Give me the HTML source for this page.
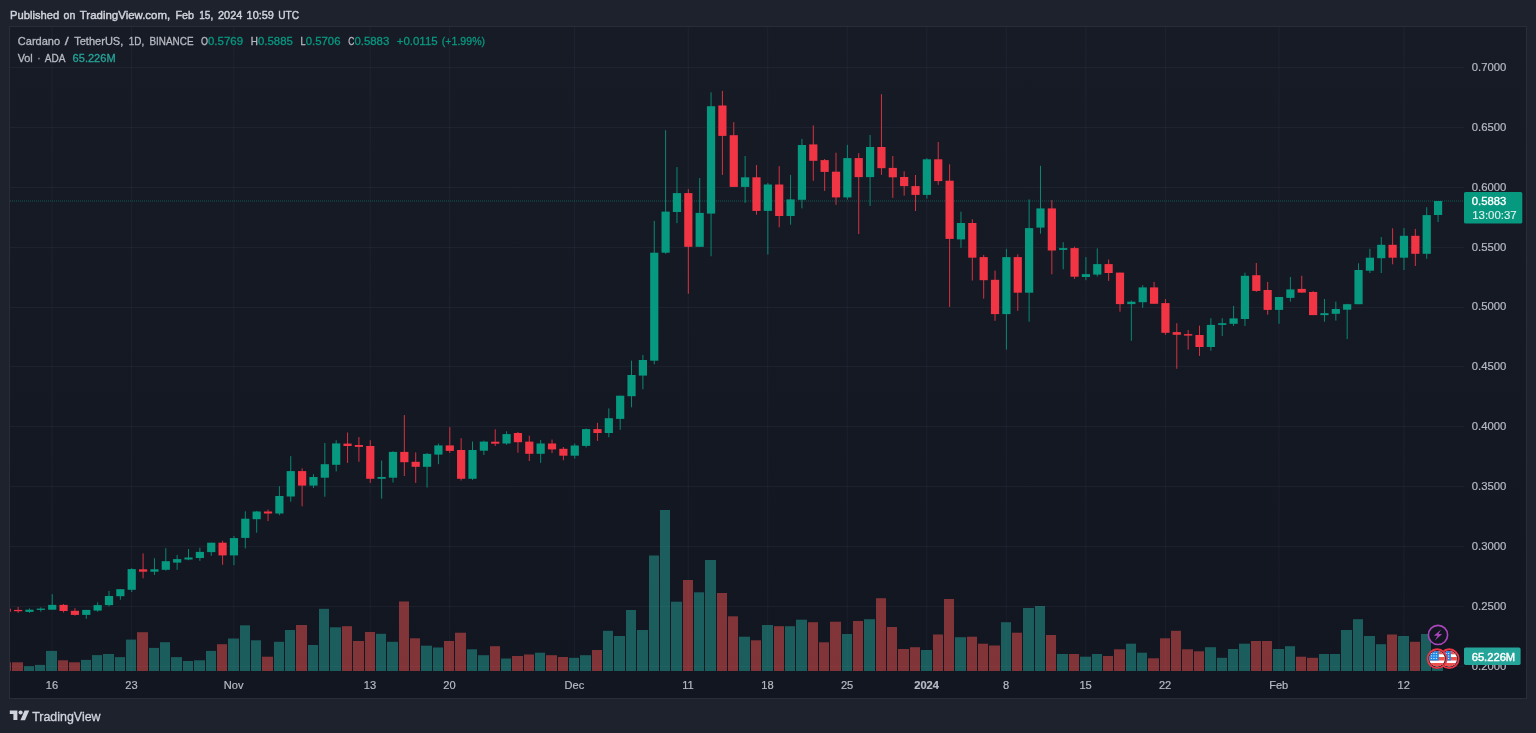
<!DOCTYPE html><html><head><meta charset="utf-8"><title>ADAUSDT</title><style>html,body{margin:0;padding:0;background:#1e222d;overflow:hidden}body{width:1536px;height:733px;position:relative;font-family:"Liberation Sans",sans-serif}</style></head><body><svg width="1536" height="733" viewBox="0 0 1536 733" style="display:block;position:absolute;left:0;top:0;will-change:transform" font-family="Liberation Sans, sans-serif">
<rect x="0" y="0" width="1536" height="733" fill="#1e222d"/>
<g opacity="0.999">
<defs><linearGradient id="bgg" x1="0" y1="0" x2="0" y2="1"><stop offset="0" stop-color="#181c27"/><stop offset="1" stop-color="#131722"/></linearGradient></defs>
<rect x="9.5" y="26.5" width="1517" height="672" fill="url(#bgg)" stroke="#2a2e39" stroke-width="1"/>
<defs><clipPath id="pc"><rect x="10" y="27" width="1454" height="644"/></clipPath></defs>
<rect x="10" y="67" width="1454" height="1" fill="rgba(140,145,160,0.08)"/>
<rect x="10" y="127" width="1454" height="1" fill="rgba(140,145,160,0.08)"/>
<rect x="10" y="187" width="1454" height="1" fill="rgba(140,145,160,0.08)"/>
<rect x="10" y="247" width="1454" height="1" fill="rgba(140,145,160,0.08)"/>
<rect x="10" y="307" width="1454" height="1" fill="rgba(140,145,160,0.08)"/>
<rect x="10" y="366" width="1454" height="1" fill="rgba(140,145,160,0.08)"/>
<rect x="10" y="426" width="1454" height="1" fill="rgba(140,145,160,0.08)"/>
<rect x="10" y="486" width="1454" height="1" fill="rgba(140,145,160,0.08)"/>
<rect x="10" y="546" width="1454" height="1" fill="rgba(140,145,160,0.08)"/>
<rect x="10" y="606" width="1454" height="1" fill="rgba(140,145,160,0.08)"/>
<rect x="10" y="666" width="1454" height="1" fill="rgba(140,145,160,0.08)"/>
<rect x="51.60" y="27" width="1" height="644" fill="rgba(140,145,160,0.08)" opacity="1.15"/>
<rect x="131.12" y="27" width="1" height="644" fill="rgba(140,145,160,0.08)" opacity="1.15"/>
<rect x="233.35" y="27" width="1" height="644" fill="rgba(140,145,160,0.08)" opacity="1.15"/>
<rect x="369.67" y="27" width="1" height="644" fill="rgba(140,145,160,0.08)" opacity="1.15"/>
<rect x="449.18" y="27" width="1" height="644" fill="rgba(140,145,160,0.08)" opacity="1.15"/>
<rect x="574.14" y="27" width="1" height="644" fill="rgba(140,145,160,0.08)" opacity="1.15"/>
<rect x="687.73" y="27" width="1" height="644" fill="rgba(140,145,160,0.08)" opacity="1.15"/>
<rect x="767.25" y="27" width="1" height="644" fill="rgba(140,145,160,0.08)" opacity="1.15"/>
<rect x="846.77" y="27" width="1" height="644" fill="rgba(140,145,160,0.08)" opacity="1.15"/>
<rect x="926.28" y="27" width="1" height="644" fill="rgba(140,145,160,0.08)" opacity="1.15"/>
<rect x="1005.80" y="27" width="1" height="644" fill="rgba(140,145,160,0.08)" opacity="1.15"/>
<rect x="1085.31" y="27" width="1" height="644" fill="rgba(140,145,160,0.08)" opacity="1.15"/>
<rect x="1164.83" y="27" width="1" height="644" fill="rgba(140,145,160,0.08)" opacity="1.15"/>
<rect x="1278.43" y="27" width="1" height="644" fill="rgba(140,145,160,0.08)" opacity="1.15"/>
<rect x="1403.38" y="27" width="1" height="644" fill="rgba(140,145,160,0.08)" opacity="1.15"/>
<g clip-path="url(#pc)">
<rect x="1" y="662.3" width="10" height="9.3" fill="rgba(239,83,80,0.5)"/>
<rect x="12" y="662.3" width="11" height="9.3" fill="rgba(239,83,80,0.5)"/>
<rect x="24" y="666.2" width="10" height="5.4" fill="rgba(38,166,154,0.5)"/>
<rect x="35" y="664.9" width="10" height="6.7" fill="rgba(38,166,154,0.5)"/>
<rect x="46" y="650.9" width="11" height="20.7" fill="rgba(38,166,154,0.5)"/>
<rect x="58" y="660.3" width="10" height="11.3" fill="rgba(239,83,80,0.5)"/>
<rect x="69" y="662.3" width="11" height="9.3" fill="rgba(239,83,80,0.5)"/>
<rect x="81" y="659.9" width="10" height="11.7" fill="rgba(38,166,154,0.5)"/>
<rect x="92" y="655.1" width="10" height="16.5" fill="rgba(38,166,154,0.5)"/>
<rect x="103" y="654.0" width="11" height="17.6" fill="rgba(38,166,154,0.5)"/>
<rect x="115" y="657.1" width="10" height="14.5" fill="rgba(38,166,154,0.5)"/>
<rect x="126" y="639.6" width="10" height="32.0" fill="rgba(38,166,154,0.5)"/>
<rect x="137" y="632.2" width="11" height="39.4" fill="rgba(239,83,80,0.5)"/>
<rect x="149" y="647.9" width="10" height="23.7" fill="rgba(38,166,154,0.5)"/>
<rect x="160" y="642.2" width="10" height="29.4" fill="rgba(38,166,154,0.5)"/>
<rect x="171" y="657.1" width="11" height="14.5" fill="rgba(38,166,154,0.5)"/>
<rect x="183" y="661.0" width="10" height="10.6" fill="rgba(38,166,154,0.5)"/>
<rect x="194" y="660.3" width="11" height="11.3" fill="rgba(38,166,154,0.5)"/>
<rect x="206" y="650.9" width="10" height="20.7" fill="rgba(38,166,154,0.5)"/>
<rect x="217" y="644.2" width="10" height="27.4" fill="rgba(239,83,80,0.5)"/>
<rect x="228" y="638.5" width="11" height="33.1" fill="rgba(38,166,154,0.5)"/>
<rect x="240" y="625.3" width="10" height="46.3" fill="rgba(38,166,154,0.5)"/>
<rect x="251" y="640.3" width="10" height="31.3" fill="rgba(38,166,154,0.5)"/>
<rect x="262" y="656.7" width="11" height="14.9" fill="rgba(239,83,80,0.5)"/>
<rect x="274" y="641.8" width="10" height="29.8" fill="rgba(38,166,154,0.5)"/>
<rect x="285" y="630.0" width="10" height="41.6" fill="rgba(38,166,154,0.5)"/>
<rect x="296" y="625.0" width="11" height="46.6" fill="rgba(239,83,80,0.5)"/>
<rect x="308" y="645.0" width="10" height="26.6" fill="rgba(38,166,154,0.5)"/>
<rect x="319" y="608.8" width="10" height="62.8" fill="rgba(38,166,154,0.5)"/>
<rect x="330" y="627.3" width="11" height="44.3" fill="rgba(38,166,154,0.5)"/>
<rect x="342" y="626.2" width="10" height="45.4" fill="rgba(239,83,80,0.5)"/>
<rect x="353" y="641.0" width="11" height="30.6" fill="rgba(239,83,80,0.5)"/>
<rect x="365" y="632.0" width="10" height="39.6" fill="rgba(239,83,80,0.5)"/>
<rect x="376" y="633.8" width="10" height="37.8" fill="rgba(38,166,154,0.5)"/>
<rect x="387" y="641.8" width="11" height="29.8" fill="rgba(38,166,154,0.5)"/>
<rect x="399" y="601.5" width="10" height="70.1" fill="rgba(239,83,80,0.5)"/>
<rect x="410" y="638.3" width="10" height="33.3" fill="rgba(239,83,80,0.5)"/>
<rect x="421" y="645.7" width="11" height="25.9" fill="rgba(38,166,154,0.5)"/>
<rect x="433" y="647.5" width="10" height="24.1" fill="rgba(38,166,154,0.5)"/>
<rect x="444" y="641.0" width="10" height="30.6" fill="rgba(239,83,80,0.5)"/>
<rect x="455" y="632.7" width="11" height="38.9" fill="rgba(239,83,80,0.5)"/>
<rect x="467" y="649.3" width="10" height="22.3" fill="rgba(38,166,154,0.5)"/>
<rect x="478" y="655.2" width="11" height="16.4" fill="rgba(38,166,154,0.5)"/>
<rect x="490" y="646.2" width="10" height="25.4" fill="rgba(239,83,80,0.5)"/>
<rect x="501" y="658.5" width="10" height="13.1" fill="rgba(38,166,154,0.5)"/>
<rect x="512" y="656.0" width="11" height="15.6" fill="rgba(239,83,80,0.5)"/>
<rect x="524" y="654.5" width="10" height="17.1" fill="rgba(239,83,80,0.5)"/>
<rect x="535" y="652.7" width="10" height="18.9" fill="rgba(38,166,154,0.5)"/>
<rect x="546" y="655.2" width="11" height="16.4" fill="rgba(239,83,80,0.5)"/>
<rect x="558" y="657.0" width="10" height="14.6" fill="rgba(239,83,80,0.5)"/>
<rect x="569" y="657.8" width="10" height="13.8" fill="rgba(38,166,154,0.5)"/>
<rect x="580" y="655.2" width="11" height="16.4" fill="rgba(38,166,154,0.5)"/>
<rect x="592" y="650.0" width="10" height="21.6" fill="rgba(239,83,80,0.5)"/>
<rect x="603" y="630.8" width="10" height="40.8" fill="rgba(38,166,154,0.5)"/>
<rect x="614" y="636.0" width="11" height="35.6" fill="rgba(38,166,154,0.5)"/>
<rect x="626" y="610.0" width="10" height="61.6" fill="rgba(38,166,154,0.5)"/>
<rect x="637" y="630.0" width="11" height="41.6" fill="rgba(38,166,154,0.5)"/>
<rect x="649" y="555.5" width="10" height="116.1" fill="rgba(38,166,154,0.5)"/>
<rect x="660" y="510.0" width="10" height="161.6" fill="rgba(38,166,154,0.5)"/>
<rect x="671" y="601.7" width="11" height="69.9" fill="rgba(38,166,154,0.5)"/>
<rect x="683" y="580.0" width="10" height="91.6" fill="rgba(239,83,80,0.5)"/>
<rect x="694" y="592.3" width="10" height="79.3" fill="rgba(38,166,154,0.5)"/>
<rect x="705" y="560.0" width="11" height="111.6" fill="rgba(38,166,154,0.5)"/>
<rect x="717" y="593.0" width="10" height="78.6" fill="rgba(239,83,80,0.5)"/>
<rect x="728" y="616.3" width="10" height="55.3" fill="rgba(239,83,80,0.5)"/>
<rect x="739" y="636.7" width="11" height="34.9" fill="rgba(38,166,154,0.5)"/>
<rect x="751" y="640.3" width="10" height="31.3" fill="rgba(239,83,80,0.5)"/>
<rect x="762" y="625.0" width="11" height="46.6" fill="rgba(38,166,154,0.5)"/>
<rect x="774" y="626.2" width="10" height="45.4" fill="rgba(239,83,80,0.5)"/>
<rect x="785" y="626.2" width="10" height="45.4" fill="rgba(38,166,154,0.5)"/>
<rect x="796" y="619.7" width="11" height="51.9" fill="rgba(38,166,154,0.5)"/>
<rect x="808" y="622.2" width="10" height="49.4" fill="rgba(239,83,80,0.5)"/>
<rect x="819" y="642.3" width="10" height="29.3" fill="rgba(239,83,80,0.5)"/>
<rect x="830" y="621.7" width="11" height="49.9" fill="rgba(239,83,80,0.5)"/>
<rect x="842" y="634.0" width="10" height="37.6" fill="rgba(38,166,154,0.5)"/>
<rect x="853" y="621.0" width="10" height="50.6" fill="rgba(239,83,80,0.5)"/>
<rect x="864" y="619.2" width="11" height="52.4" fill="rgba(38,166,154,0.5)"/>
<rect x="876" y="598.2" width="10" height="73.4" fill="rgba(239,83,80,0.5)"/>
<rect x="887" y="627.0" width="10" height="44.6" fill="rgba(239,83,80,0.5)"/>
<rect x="898" y="649.0" width="11" height="22.6" fill="rgba(239,83,80,0.5)"/>
<rect x="910" y="647.2" width="10" height="24.4" fill="rgba(239,83,80,0.5)"/>
<rect x="921" y="650.0" width="11" height="21.6" fill="rgba(38,166,154,0.5)"/>
<rect x="933" y="634.5" width="10" height="37.1" fill="rgba(239,83,80,0.5)"/>
<rect x="944" y="599.0" width="10" height="72.6" fill="rgba(239,83,80,0.5)"/>
<rect x="955" y="637.2" width="11" height="34.4" fill="rgba(38,166,154,0.5)"/>
<rect x="967" y="636.7" width="10" height="34.9" fill="rgba(239,83,80,0.5)"/>
<rect x="978" y="643.7" width="10" height="27.9" fill="rgba(239,83,80,0.5)"/>
<rect x="989" y="645.5" width="11" height="26.1" fill="rgba(239,83,80,0.5)"/>
<rect x="1001" y="622.2" width="10" height="49.4" fill="rgba(38,166,154,0.5)"/>
<rect x="1012" y="632.7" width="10" height="38.9" fill="rgba(239,83,80,0.5)"/>
<rect x="1023" y="608.0" width="11" height="63.6" fill="rgba(38,166,154,0.5)"/>
<rect x="1035" y="606.0" width="10" height="65.6" fill="rgba(38,166,154,0.5)"/>
<rect x="1046" y="635.0" width="10" height="36.6" fill="rgba(239,83,80,0.5)"/>
<rect x="1057" y="654.0" width="11" height="17.6" fill="rgba(38,166,154,0.5)"/>
<rect x="1069" y="654.0" width="10" height="17.6" fill="rgba(239,83,80,0.5)"/>
<rect x="1080" y="656.7" width="11" height="14.9" fill="rgba(38,166,154,0.5)"/>
<rect x="1092" y="654.0" width="10" height="17.6" fill="rgba(38,166,154,0.5)"/>
<rect x="1103" y="656.0" width="10" height="15.6" fill="rgba(239,83,80,0.5)"/>
<rect x="1114" y="649.3" width="11" height="22.3" fill="rgba(239,83,80,0.5)"/>
<rect x="1126" y="643.7" width="10" height="27.9" fill="rgba(38,166,154,0.5)"/>
<rect x="1137" y="652.7" width="10" height="18.9" fill="rgba(38,166,154,0.5)"/>
<rect x="1148" y="658.3" width="11" height="13.3" fill="rgba(239,83,80,0.5)"/>
<rect x="1160" y="638.3" width="10" height="33.3" fill="rgba(239,83,80,0.5)"/>
<rect x="1171" y="630.8" width="10" height="40.8" fill="rgba(239,83,80,0.5)"/>
<rect x="1182" y="649.3" width="11" height="22.3" fill="rgba(239,83,80,0.5)"/>
<rect x="1194" y="651.3" width="10" height="20.3" fill="rgba(239,83,80,0.5)"/>
<rect x="1205" y="647.2" width="11" height="24.4" fill="rgba(38,166,154,0.5)"/>
<rect x="1217" y="657.8" width="10" height="13.8" fill="rgba(38,166,154,0.5)"/>
<rect x="1228" y="649.0" width="10" height="22.6" fill="rgba(38,166,154,0.5)"/>
<rect x="1239" y="643.7" width="11" height="27.9" fill="rgba(38,166,154,0.5)"/>
<rect x="1251" y="641.0" width="10" height="30.6" fill="rgba(239,83,80,0.5)"/>
<rect x="1262" y="641.0" width="10" height="30.6" fill="rgba(239,83,80,0.5)"/>
<rect x="1273" y="649.0" width="11" height="22.6" fill="rgba(38,166,154,0.5)"/>
<rect x="1285" y="646.2" width="10" height="25.4" fill="rgba(38,166,154,0.5)"/>
<rect x="1296" y="656.7" width="10" height="14.9" fill="rgba(239,83,80,0.5)"/>
<rect x="1307" y="657.8" width="11" height="13.8" fill="rgba(239,83,80,0.5)"/>
<rect x="1319" y="654.0" width="10" height="17.6" fill="rgba(38,166,154,0.5)"/>
<rect x="1330" y="654.0" width="10" height="17.6" fill="rgba(38,166,154,0.5)"/>
<rect x="1341" y="630.0" width="11" height="41.6" fill="rgba(38,166,154,0.5)"/>
<rect x="1353" y="619.2" width="10" height="52.4" fill="rgba(38,166,154,0.5)"/>
<rect x="1364" y="636.0" width="11" height="35.6" fill="rgba(38,166,154,0.5)"/>
<rect x="1376" y="644.2" width="10" height="27.4" fill="rgba(38,166,154,0.5)"/>
<rect x="1387" y="634.5" width="10" height="37.1" fill="rgba(239,83,80,0.5)"/>
<rect x="1398" y="636.0" width="11" height="35.6" fill="rgba(38,166,154,0.5)"/>
<rect x="1410" y="641.8" width="10" height="29.8" fill="rgba(239,83,80,0.5)"/>
<rect x="1421" y="634.0" width="10" height="37.6" fill="rgba(38,166,154,0.5)"/>
<rect x="1432" y="657.0" width="11" height="14.6" fill="rgba(38,166,154,0.5)"/>
<line x1="10" x2="1464" y1="201" y2="201" stroke="#089981" stroke-width="1" stroke-dasharray="1 1" opacity="0.5"/>
<rect x="6.26" y="607.5" width="1" height="5.0" fill="#f23645" opacity="0.88"/>
<rect x="2.66" y="608.6" width="8.2" height="3.1" fill="#f23645"/>
<rect x="17.62" y="606.9" width="1" height="5.9" fill="#f23645" opacity="0.88"/>
<rect x="14.02" y="609.9" width="8.2" height="1.3" fill="#f23645"/>
<rect x="28.98" y="608.4" width="1" height="4.4" fill="#089981" opacity="0.88"/>
<rect x="25.38" y="609.7" width="8.2" height="2.2" fill="#089981"/>
<rect x="40.34" y="607.3" width="1" height="4.4" fill="#089981" opacity="0.88"/>
<rect x="36.74" y="608.6" width="8.2" height="1.3" fill="#089981"/>
<rect x="51.70" y="594.2" width="1" height="15.5" fill="#089981" opacity="0.88"/>
<rect x="48.10" y="604.9" width="8.2" height="4.8" fill="#089981"/>
<rect x="63.06" y="604.0" width="1" height="8.5" fill="#f23645" opacity="0.88"/>
<rect x="59.46" y="604.9" width="8.2" height="6.1" fill="#f23645"/>
<rect x="74.42" y="608.2" width="1" height="7.4" fill="#f23645" opacity="0.88"/>
<rect x="70.82" y="610.8" width="8.2" height="4.1" fill="#f23645"/>
<rect x="85.78" y="609.9" width="1" height="9.0" fill="#089981" opacity="0.88"/>
<rect x="82.18" y="609.9" width="8.2" height="5.0" fill="#089981"/>
<rect x="97.14" y="602.3" width="1" height="9.4" fill="#089981" opacity="0.88"/>
<rect x="93.54" y="605.1" width="8.2" height="5.5" fill="#089981"/>
<rect x="108.50" y="590.9" width="1" height="15.5" fill="#089981" opacity="0.88"/>
<rect x="104.90" y="596.0" width="8.2" height="9.1" fill="#089981"/>
<rect x="119.86" y="589.2" width="1" height="10.5" fill="#089981" opacity="0.88"/>
<rect x="116.26" y="589.2" width="8.2" height="7.0" fill="#089981"/>
<rect x="131.22" y="568.2" width="1" height="23.8" fill="#089981" opacity="0.88"/>
<rect x="127.62" y="569.1" width="8.2" height="20.7" fill="#089981"/>
<rect x="142.58" y="553.4" width="1" height="24.9" fill="#f23645" opacity="0.88"/>
<rect x="138.98" y="569.3" width="8.2" height="2.4" fill="#f23645"/>
<rect x="153.94" y="558.2" width="1" height="16.8" fill="#089981" opacity="0.88"/>
<rect x="150.34" y="569.3" width="8.2" height="2.4" fill="#089981"/>
<rect x="165.30" y="548.2" width="1" height="22.4" fill="#089981" opacity="0.88"/>
<rect x="161.70" y="561.2" width="8.2" height="8.6" fill="#089981"/>
<rect x="176.65" y="554.9" width="1" height="14.9" fill="#089981" opacity="0.88"/>
<rect x="173.05" y="559.1" width="8.2" height="3.5" fill="#089981"/>
<rect x="188.01" y="549.0" width="1" height="11.2" fill="#089981" opacity="0.88"/>
<rect x="184.41" y="557.5" width="8.2" height="2.0" fill="#089981"/>
<rect x="199.37" y="547.7" width="1" height="13.1" fill="#089981" opacity="0.88"/>
<rect x="195.77" y="551.9" width="8.2" height="6.1" fill="#089981"/>
<rect x="210.73" y="542.7" width="1" height="13.1" fill="#089981" opacity="0.88"/>
<rect x="207.13" y="542.7" width="8.2" height="9.4" fill="#089981"/>
<rect x="222.09" y="540.7" width="1" height="24.0" fill="#f23645" opacity="0.88"/>
<rect x="218.49" y="542.7" width="8.2" height="12.7" fill="#f23645"/>
<rect x="233.45" y="535.9" width="1" height="29.3" fill="#089981" opacity="0.88"/>
<rect x="229.85" y="538.1" width="8.2" height="17.3" fill="#089981"/>
<rect x="244.81" y="511.3" width="1" height="37.1" fill="#089981" opacity="0.88"/>
<rect x="241.21" y="518.7" width="8.2" height="19.2" fill="#089981"/>
<rect x="256.17" y="510.9" width="1" height="21.8" fill="#089981" opacity="0.88"/>
<rect x="252.57" y="511.5" width="8.2" height="7.7" fill="#089981"/>
<rect x="267.53" y="509.6" width="1" height="11.5" fill="#f23645" opacity="0.88"/>
<rect x="263.93" y="511.5" width="8.2" height="2.0" fill="#f23645"/>
<rect x="278.89" y="486.2" width="1" height="29.0" fill="#089981" opacity="0.88"/>
<rect x="275.29" y="496.0" width="8.2" height="17.5" fill="#089981"/>
<rect x="290.25" y="456.1" width="1" height="45.6" fill="#089981" opacity="0.88"/>
<rect x="286.65" y="471.1" width="8.2" height="25.4" fill="#089981"/>
<rect x="301.61" y="468.3" width="1" height="38.0" fill="#f23645" opacity="0.88"/>
<rect x="298.01" y="471.1" width="8.2" height="14.5" fill="#f23645"/>
<rect x="312.97" y="474.2" width="1" height="13.8" fill="#089981" opacity="0.88"/>
<rect x="309.37" y="477.0" width="8.2" height="8.6" fill="#089981"/>
<rect x="324.33" y="443.0" width="1" height="53.7" fill="#089981" opacity="0.88"/>
<rect x="320.73" y="464.2" width="8.2" height="13.5" fill="#089981"/>
<rect x="335.69" y="440.2" width="1" height="31.2" fill="#089981" opacity="0.88"/>
<rect x="332.09" y="443.4" width="8.2" height="21.4" fill="#089981"/>
<rect x="347.05" y="432.5" width="1" height="30.4" fill="#f23645" opacity="0.88"/>
<rect x="343.45" y="443.6" width="8.2" height="2.4" fill="#f23645"/>
<rect x="358.41" y="437.1" width="1" height="24.7" fill="#f23645" opacity="0.88"/>
<rect x="354.81" y="445.0" width="8.2" height="1.9" fill="#f23645"/>
<rect x="369.77" y="440.2" width="1" height="42.7" fill="#f23645" opacity="0.88"/>
<rect x="366.17" y="446.0" width="8.2" height="32.8" fill="#f23645"/>
<rect x="381.13" y="460.5" width="1" height="38.1" fill="#089981" opacity="0.88"/>
<rect x="377.53" y="477.0" width="8.2" height="1.8" fill="#089981"/>
<rect x="392.49" y="451.3" width="1" height="31.2" fill="#089981" opacity="0.88"/>
<rect x="388.88" y="451.9" width="8.2" height="25.8" fill="#089981"/>
<rect x="403.84" y="415.1" width="1" height="60.9" fill="#f23645" opacity="0.88"/>
<rect x="400.24" y="451.9" width="8.2" height="10.3" fill="#f23645"/>
<rect x="415.20" y="452.4" width="1" height="30.5" fill="#f23645" opacity="0.88"/>
<rect x="411.60" y="461.8" width="8.2" height="5.0" fill="#f23645"/>
<rect x="426.56" y="453.0" width="1" height="34.5" fill="#089981" opacity="0.88"/>
<rect x="422.96" y="453.9" width="8.2" height="12.9" fill="#089981"/>
<rect x="437.92" y="443.6" width="1" height="20.6" fill="#089981" opacity="0.88"/>
<rect x="434.32" y="445.4" width="8.2" height="9.2" fill="#089981"/>
<rect x="449.28" y="427.1" width="1" height="25.9" fill="#f23645" opacity="0.88"/>
<rect x="445.68" y="445.4" width="8.2" height="5.5" fill="#f23645"/>
<rect x="460.64" y="438.2" width="1" height="42.3" fill="#f23645" opacity="0.88"/>
<rect x="457.04" y="450.0" width="8.2" height="28.8" fill="#f23645"/>
<rect x="472.00" y="441.5" width="1" height="38.4" fill="#089981" opacity="0.88"/>
<rect x="468.40" y="450.0" width="8.2" height="28.8" fill="#089981"/>
<rect x="483.36" y="440.6" width="1" height="14.4" fill="#089981" opacity="0.88"/>
<rect x="479.76" y="441.6" width="8.2" height="9.1" fill="#089981"/>
<rect x="494.72" y="429.3" width="1" height="16.7" fill="#f23645" opacity="0.88"/>
<rect x="491.12" y="441.7" width="8.2" height="2.0" fill="#f23645"/>
<rect x="506.08" y="431.3" width="1" height="13.5" fill="#089981" opacity="0.88"/>
<rect x="502.48" y="434.1" width="8.2" height="9.4" fill="#089981"/>
<rect x="517.44" y="432.0" width="1" height="20.7" fill="#f23645" opacity="0.88"/>
<rect x="513.84" y="433.0" width="8.2" height="9.2" fill="#f23645"/>
<rect x="528.80" y="435.7" width="1" height="25.3" fill="#f23645" opacity="0.88"/>
<rect x="525.20" y="441.6" width="8.2" height="12.2" fill="#f23645"/>
<rect x="540.16" y="440.0" width="1" height="22.9" fill="#089981" opacity="0.88"/>
<rect x="536.56" y="443.5" width="8.2" height="10.3" fill="#089981"/>
<rect x="551.52" y="439.6" width="1" height="13.5" fill="#f23645" opacity="0.88"/>
<rect x="547.92" y="443.5" width="8.2" height="5.9" fill="#f23645"/>
<rect x="562.88" y="447.0" width="1" height="13.3" fill="#f23645" opacity="0.88"/>
<rect x="559.28" y="448.8" width="8.2" height="6.9" fill="#f23645"/>
<rect x="574.24" y="443.5" width="1" height="15.1" fill="#089981" opacity="0.88"/>
<rect x="570.64" y="445.5" width="8.2" height="10.2" fill="#089981"/>
<rect x="585.60" y="428.5" width="1" height="19.0" fill="#089981" opacity="0.88"/>
<rect x="582.00" y="429.1" width="8.2" height="16.8" fill="#089981"/>
<rect x="596.96" y="422.8" width="1" height="18.1" fill="#f23645" opacity="0.88"/>
<rect x="593.36" y="429.1" width="8.2" height="3.9" fill="#f23645"/>
<rect x="608.32" y="408.4" width="1" height="28.8" fill="#089981" opacity="0.88"/>
<rect x="604.72" y="418.2" width="8.2" height="14.8" fill="#089981"/>
<rect x="619.68" y="395.7" width="1" height="34.1" fill="#089981" opacity="0.88"/>
<rect x="616.08" y="395.7" width="8.2" height="23.2" fill="#089981"/>
<rect x="631.03" y="360.6" width="1" height="46.7" fill="#089981" opacity="0.88"/>
<rect x="627.43" y="375.0" width="8.2" height="21.2" fill="#089981"/>
<rect x="642.39" y="354.9" width="1" height="34.3" fill="#089981" opacity="0.88"/>
<rect x="638.79" y="360.0" width="8.2" height="15.6" fill="#089981"/>
<rect x="653.75" y="220.9" width="1" height="143.4" fill="#089981" opacity="0.88"/>
<rect x="650.15" y="252.7" width="8.2" height="108.0" fill="#089981"/>
<rect x="665.11" y="130.2" width="1" height="123.6" fill="#089981" opacity="0.88"/>
<rect x="661.51" y="211.6" width="8.2" height="41.1" fill="#089981"/>
<rect x="676.47" y="167.1" width="1" height="56.1" fill="#089981" opacity="0.88"/>
<rect x="672.87" y="193.1" width="8.2" height="18.9" fill="#089981"/>
<rect x="687.83" y="189.1" width="1" height="104.7" fill="#f23645" opacity="0.88"/>
<rect x="684.23" y="193.1" width="8.2" height="53.7" fill="#f23645"/>
<rect x="699.19" y="178.0" width="1" height="68.8" fill="#089981" opacity="0.88"/>
<rect x="695.59" y="212.9" width="8.2" height="33.9" fill="#089981"/>
<rect x="710.55" y="92.4" width="1" height="163.8" fill="#089981" opacity="0.88"/>
<rect x="706.95" y="106.2" width="8.2" height="107.4" fill="#089981"/>
<rect x="721.91" y="90.9" width="1" height="84.0" fill="#f23645" opacity="0.88"/>
<rect x="718.31" y="105.5" width="8.2" height="30.4" fill="#f23645"/>
<rect x="733.27" y="122.1" width="1" height="64.8" fill="#f23645" opacity="0.88"/>
<rect x="729.67" y="135.2" width="8.2" height="51.7" fill="#f23645"/>
<rect x="744.63" y="156.0" width="1" height="46.9" fill="#089981" opacity="0.88"/>
<rect x="741.03" y="177.3" width="8.2" height="9.6" fill="#089981"/>
<rect x="755.99" y="165.1" width="1" height="49.6" fill="#f23645" opacity="0.88"/>
<rect x="752.39" y="177.3" width="8.2" height="33.6" fill="#f23645"/>
<rect x="767.35" y="183.0" width="1" height="71.5" fill="#089981" opacity="0.88"/>
<rect x="763.75" y="184.5" width="8.2" height="26.4" fill="#089981"/>
<rect x="778.71" y="166.2" width="1" height="61.1" fill="#f23645" opacity="0.88"/>
<rect x="775.11" y="184.5" width="8.2" height="31.5" fill="#f23645"/>
<rect x="790.07" y="174.9" width="1" height="49.8" fill="#089981" opacity="0.88"/>
<rect x="786.47" y="199.4" width="8.2" height="16.6" fill="#089981"/>
<rect x="801.43" y="138.9" width="1" height="69.4" fill="#089981" opacity="0.88"/>
<rect x="797.83" y="145.0" width="8.2" height="54.8" fill="#089981"/>
<rect x="812.79" y="125.4" width="1" height="55.4" fill="#f23645" opacity="0.88"/>
<rect x="809.19" y="144.4" width="8.2" height="16.4" fill="#f23645"/>
<rect x="824.15" y="159.0" width="1" height="31.9" fill="#f23645" opacity="0.88"/>
<rect x="820.55" y="160.1" width="8.2" height="11.8" fill="#f23645"/>
<rect x="835.51" y="152.7" width="1" height="52.1" fill="#f23645" opacity="0.88"/>
<rect x="831.91" y="171.7" width="8.2" height="25.7" fill="#f23645"/>
<rect x="846.87" y="144.8" width="1" height="54.8" fill="#089981" opacity="0.88"/>
<rect x="843.27" y="158.1" width="8.2" height="39.3" fill="#089981"/>
<rect x="858.22" y="153.1" width="1" height="81.0" fill="#f23645" opacity="0.88"/>
<rect x="854.62" y="158.1" width="8.2" height="19.0" fill="#f23645"/>
<rect x="869.58" y="135.0" width="1" height="70.9" fill="#089981" opacity="0.88"/>
<rect x="865.98" y="147.0" width="8.2" height="30.1" fill="#089981"/>
<rect x="880.94" y="94.2" width="1" height="80.7" fill="#f23645" opacity="0.88"/>
<rect x="877.34" y="147.0" width="8.2" height="21.2" fill="#f23645"/>
<rect x="892.30" y="156.0" width="1" height="41.9" fill="#f23645" opacity="0.88"/>
<rect x="888.70" y="167.9" width="8.2" height="9.4" fill="#f23645"/>
<rect x="903.66" y="171.3" width="1" height="24.4" fill="#f23645" opacity="0.88"/>
<rect x="900.06" y="177.0" width="8.2" height="9.1" fill="#f23645"/>
<rect x="915.02" y="175.0" width="1" height="36.0" fill="#f23645" opacity="0.88"/>
<rect x="911.42" y="186.1" width="8.2" height="8.8" fill="#f23645"/>
<rect x="926.38" y="158.2" width="1" height="40.4" fill="#089981" opacity="0.88"/>
<rect x="922.78" y="159.3" width="8.2" height="35.6" fill="#089981"/>
<rect x="937.74" y="142.0" width="1" height="42.8" fill="#f23645" opacity="0.88"/>
<rect x="934.14" y="159.3" width="8.2" height="21.8" fill="#f23645"/>
<rect x="949.10" y="164.3" width="1" height="142.6" fill="#f23645" opacity="0.88"/>
<rect x="945.50" y="180.7" width="8.2" height="58.2" fill="#f23645"/>
<rect x="960.46" y="211.7" width="1" height="36.2" fill="#089981" opacity="0.88"/>
<rect x="956.86" y="223.0" width="8.2" height="16.4" fill="#089981"/>
<rect x="971.82" y="219.3" width="1" height="61.2" fill="#f23645" opacity="0.88"/>
<rect x="968.22" y="223.0" width="8.2" height="34.7" fill="#f23645"/>
<rect x="983.18" y="254.9" width="1" height="43.7" fill="#f23645" opacity="0.88"/>
<rect x="979.58" y="257.1" width="8.2" height="23.1" fill="#f23645"/>
<rect x="994.54" y="270.6" width="1" height="50.2" fill="#f23645" opacity="0.88"/>
<rect x="990.94" y="279.8" width="8.2" height="34.3" fill="#f23645"/>
<rect x="1005.90" y="248.8" width="1" height="100.8" fill="#089981" opacity="0.88"/>
<rect x="1002.30" y="257.1" width="8.2" height="57.0" fill="#089981"/>
<rect x="1017.26" y="254.3" width="1" height="56.5" fill="#f23645" opacity="0.88"/>
<rect x="1013.66" y="257.1" width="8.2" height="35.6" fill="#f23645"/>
<rect x="1028.62" y="199.4" width="1" height="122.3" fill="#089981" opacity="0.88"/>
<rect x="1025.02" y="228.1" width="8.2" height="64.6" fill="#089981"/>
<rect x="1039.98" y="165.8" width="1" height="67.9" fill="#089981" opacity="0.88"/>
<rect x="1036.38" y="208.4" width="8.2" height="19.2" fill="#089981"/>
<rect x="1051.34" y="200.1" width="1" height="74.2" fill="#f23645" opacity="0.88"/>
<rect x="1047.74" y="208.4" width="8.2" height="42.1" fill="#f23645"/>
<rect x="1062.70" y="242.2" width="1" height="27.1" fill="#089981" opacity="0.88"/>
<rect x="1059.10" y="248.1" width="8.2" height="1.8" fill="#089981"/>
<rect x="1074.06" y="246.6" width="1" height="32.3" fill="#f23645" opacity="0.88"/>
<rect x="1070.46" y="248.1" width="8.2" height="28.6" fill="#f23645"/>
<rect x="1085.41" y="257.1" width="1" height="23.1" fill="#089981" opacity="0.88"/>
<rect x="1081.81" y="274.1" width="8.2" height="2.9" fill="#089981"/>
<rect x="1096.77" y="248.4" width="1" height="28.1" fill="#089981" opacity="0.88"/>
<rect x="1093.17" y="264.1" width="8.2" height="10.5" fill="#089981"/>
<rect x="1108.13" y="259.5" width="1" height="21.4" fill="#f23645" opacity="0.88"/>
<rect x="1104.53" y="264.1" width="8.2" height="8.9" fill="#f23645"/>
<rect x="1119.49" y="272.6" width="1" height="39.1" fill="#f23645" opacity="0.88"/>
<rect x="1115.89" y="272.6" width="8.2" height="31.5" fill="#f23645"/>
<rect x="1130.85" y="300.5" width="1" height="40.3" fill="#089981" opacity="0.88"/>
<rect x="1127.25" y="301.7" width="8.2" height="2.4" fill="#089981"/>
<rect x="1142.21" y="285.2" width="1" height="22.7" fill="#089981" opacity="0.88"/>
<rect x="1138.61" y="287.4" width="8.2" height="14.8" fill="#089981"/>
<rect x="1153.57" y="281.9" width="1" height="21.9" fill="#f23645" opacity="0.88"/>
<rect x="1149.97" y="287.4" width="8.2" height="16.4" fill="#f23645"/>
<rect x="1164.93" y="299.0" width="1" height="35.8" fill="#f23645" opacity="0.88"/>
<rect x="1161.33" y="303.1" width="8.2" height="29.7" fill="#f23645"/>
<rect x="1176.29" y="323.2" width="1" height="45.6" fill="#f23645" opacity="0.88"/>
<rect x="1172.69" y="332.1" width="8.2" height="2.7" fill="#f23645"/>
<rect x="1187.65" y="330.0" width="1" height="19.6" fill="#f23645" opacity="0.88"/>
<rect x="1184.05" y="334.1" width="8.2" height="1.5" fill="#f23645"/>
<rect x="1199.01" y="325.6" width="1" height="30.3" fill="#f23645" opacity="0.88"/>
<rect x="1195.41" y="335.0" width="8.2" height="12.0" fill="#f23645"/>
<rect x="1210.37" y="318.2" width="1" height="32.5" fill="#089981" opacity="0.88"/>
<rect x="1206.77" y="324.9" width="8.2" height="22.1" fill="#089981"/>
<rect x="1221.73" y="318.2" width="1" height="17.9" fill="#089981" opacity="0.88"/>
<rect x="1218.13" y="323.2" width="8.2" height="1.7" fill="#089981"/>
<rect x="1233.09" y="305.9" width="1" height="20.1" fill="#089981" opacity="0.88"/>
<rect x="1229.49" y="318.4" width="8.2" height="5.4" fill="#089981"/>
<rect x="1244.45" y="272.6" width="1" height="53.4" fill="#089981" opacity="0.88"/>
<rect x="1240.85" y="275.8" width="8.2" height="43.2" fill="#089981"/>
<rect x="1255.81" y="263.0" width="1" height="28.8" fill="#f23645" opacity="0.88"/>
<rect x="1252.21" y="275.2" width="8.2" height="15.7" fill="#f23645"/>
<rect x="1267.17" y="281.9" width="1" height="32.8" fill="#f23645" opacity="0.88"/>
<rect x="1263.57" y="290.0" width="8.2" height="19.9" fill="#f23645"/>
<rect x="1278.53" y="297.0" width="1" height="26.8" fill="#089981" opacity="0.88"/>
<rect x="1274.93" y="297.0" width="8.2" height="12.9" fill="#089981"/>
<rect x="1289.89" y="276.9" width="1" height="24.7" fill="#089981" opacity="0.88"/>
<rect x="1286.29" y="289.4" width="8.2" height="8.5" fill="#089981"/>
<rect x="1301.25" y="275.8" width="1" height="16.8" fill="#f23645" opacity="0.88"/>
<rect x="1297.65" y="288.9" width="8.2" height="3.7" fill="#f23645"/>
<rect x="1312.60" y="291.1" width="1" height="24.0" fill="#f23645" opacity="0.88"/>
<rect x="1309.00" y="292.0" width="8.2" height="23.1" fill="#f23645"/>
<rect x="1323.96" y="299.0" width="1" height="22.7" fill="#089981" opacity="0.88"/>
<rect x="1320.36" y="313.2" width="8.2" height="1.9" fill="#089981"/>
<rect x="1335.32" y="301.6" width="1" height="19.0" fill="#089981" opacity="0.88"/>
<rect x="1331.72" y="309.0" width="8.2" height="4.8" fill="#089981"/>
<rect x="1346.68" y="303.8" width="1" height="35.3" fill="#089981" opacity="0.88"/>
<rect x="1343.08" y="304.2" width="8.2" height="5.5" fill="#089981"/>
<rect x="1358.04" y="263.3" width="1" height="40.9" fill="#089981" opacity="0.88"/>
<rect x="1354.44" y="270.0" width="8.2" height="34.2" fill="#089981"/>
<rect x="1369.40" y="248.8" width="1" height="24.2" fill="#089981" opacity="0.88"/>
<rect x="1365.80" y="257.7" width="8.2" height="13.0" fill="#089981"/>
<rect x="1380.76" y="237.0" width="1" height="36.0" fill="#089981" opacity="0.88"/>
<rect x="1377.16" y="244.8" width="8.2" height="13.4" fill="#089981"/>
<rect x="1392.12" y="228.3" width="1" height="36.0" fill="#f23645" opacity="0.88"/>
<rect x="1388.52" y="244.8" width="8.2" height="12.9" fill="#f23645"/>
<rect x="1403.48" y="228.0" width="1" height="42.0" fill="#089981" opacity="0.88"/>
<rect x="1399.88" y="235.8" width="8.2" height="21.9" fill="#089981"/>
<rect x="1414.84" y="228.9" width="1" height="37.1" fill="#f23645" opacity="0.88"/>
<rect x="1411.24" y="235.8" width="8.2" height="18.0" fill="#f23645"/>
<rect x="1426.20" y="207.2" width="1" height="51.6" fill="#089981" opacity="0.88"/>
<rect x="1422.60" y="215.1" width="8.2" height="38.7" fill="#089981"/>
<rect x="1437.56" y="201.0" width="1" height="21.0" fill="#089981" opacity="0.88"/>
<rect x="1433.96" y="201.0" width="8.2" height="14.0" fill="#089981"/>
</g>
<text x="1471.8" y="70.9" font-size="11.3" fill="#b8bbc3" stroke="#b8bbc3" stroke-width="0.2" textLength="34.6" lengthAdjust="spacingAndGlyphs">0.7000</text>
<text x="1471.8" y="130.8" font-size="11.3" fill="#b8bbc3" stroke="#b8bbc3" stroke-width="0.2" textLength="34.6" lengthAdjust="spacingAndGlyphs">0.6500</text>
<text x="1471.8" y="190.7" font-size="11.3" fill="#b8bbc3" stroke="#b8bbc3" stroke-width="0.2" textLength="34.6" lengthAdjust="spacingAndGlyphs">0.6000</text>
<text x="1471.8" y="250.5" font-size="11.3" fill="#b8bbc3" stroke="#b8bbc3" stroke-width="0.2" textLength="34.6" lengthAdjust="spacingAndGlyphs">0.5500</text>
<text x="1471.8" y="310.4" font-size="11.3" fill="#b8bbc3" stroke="#b8bbc3" stroke-width="0.2" textLength="34.6" lengthAdjust="spacingAndGlyphs">0.5000</text>
<text x="1471.8" y="370.3" font-size="11.3" fill="#b8bbc3" stroke="#b8bbc3" stroke-width="0.2" textLength="34.6" lengthAdjust="spacingAndGlyphs">0.4500</text>
<text x="1471.8" y="430.2" font-size="11.3" fill="#b8bbc3" stroke="#b8bbc3" stroke-width="0.2" textLength="34.6" lengthAdjust="spacingAndGlyphs">0.4000</text>
<text x="1471.8" y="490.1" font-size="11.3" fill="#b8bbc3" stroke="#b8bbc3" stroke-width="0.2" textLength="34.6" lengthAdjust="spacingAndGlyphs">0.3500</text>
<text x="1471.8" y="550.0" font-size="11.3" fill="#b8bbc3" stroke="#b8bbc3" stroke-width="0.2" textLength="34.6" lengthAdjust="spacingAndGlyphs">0.3000</text>
<text x="1471.8" y="610.0" font-size="11.3" fill="#b8bbc3" stroke="#b8bbc3" stroke-width="0.2" textLength="34.6" lengthAdjust="spacingAndGlyphs">0.2500</text>
<text x="1471.8" y="669.9" font-size="11.3" fill="#b8bbc3" stroke="#b8bbc3" stroke-width="0.2" textLength="34.6" lengthAdjust="spacingAndGlyphs">0.2000</text>
<text x="51.9" y="689.3" font-size="11.1" fill="#b8bbc3" stroke="#b8bbc3" stroke-width="0.2" text-anchor="middle">16</text>
<text x="131.4" y="689.3" font-size="11.1" fill="#b8bbc3" stroke="#b8bbc3" stroke-width="0.2" text-anchor="middle">23</text>
<text x="233.7" y="689.3" font-size="11.1" fill="#b8bbc3" stroke="#b8bbc3" stroke-width="0.2" text-anchor="middle">Nov</text>
<text x="370.0" y="689.3" font-size="11.1" fill="#b8bbc3" stroke="#b8bbc3" stroke-width="0.2" text-anchor="middle">13</text>
<text x="449.5" y="689.3" font-size="11.1" fill="#b8bbc3" stroke="#b8bbc3" stroke-width="0.2" text-anchor="middle">20</text>
<text x="574.4" y="689.3" font-size="11.1" fill="#b8bbc3" stroke="#b8bbc3" stroke-width="0.2" text-anchor="middle">Dec</text>
<text x="688.0" y="689.3" font-size="11.1" fill="#b8bbc3" stroke="#b8bbc3" stroke-width="0.2" text-anchor="middle">11</text>
<text x="767.5" y="689.3" font-size="11.1" fill="#b8bbc3" stroke="#b8bbc3" stroke-width="0.2" text-anchor="middle">18</text>
<text x="847.1" y="689.3" font-size="11.1" fill="#b8bbc3" stroke="#b8bbc3" stroke-width="0.2" text-anchor="middle">25</text>
<text x="926.6" y="689.3" font-size="11.1" fill="#b8bbc3" stroke="#b8bbc3" stroke-width="0.2" text-anchor="middle" font-weight="bold">2024</text>
<text x="1006.1" y="689.3" font-size="11.1" fill="#b8bbc3" stroke="#b8bbc3" stroke-width="0.2" text-anchor="middle">8</text>
<text x="1085.6" y="689.3" font-size="11.1" fill="#b8bbc3" stroke="#b8bbc3" stroke-width="0.2" text-anchor="middle">15</text>
<text x="1165.1" y="689.3" font-size="11.1" fill="#b8bbc3" stroke="#b8bbc3" stroke-width="0.2" text-anchor="middle">22</text>
<text x="1278.7" y="689.3" font-size="11.1" fill="#b8bbc3" stroke="#b8bbc3" stroke-width="0.2" text-anchor="middle">Feb</text>
<text x="1403.7" y="689.3" font-size="11.1" fill="#b8bbc3" stroke="#b8bbc3" stroke-width="0.2" text-anchor="middle">12</text>
<rect x="1464" y="192" width="58.3" height="31.5" rx="1.6" fill="#089981"/>
<text x="1471.8" y="205.2" font-size="11.3" fill="#ffffff" stroke="#ffffff" stroke-width="0.35" textLength="34.5" lengthAdjust="spacingAndGlyphs">0.5883</text>
<text x="1472.2" y="218.7" font-size="11.3" fill="#ffffff" fill-opacity="0.85" stroke="#ffffff" stroke-opacity="0.85" stroke-width="0.15" textLength="44.5" lengthAdjust="spacingAndGlyphs">13:00:37</text>
<rect x="1464" y="647.4" width="56.6" height="17.5" rx="1.6" fill="#26a69a"/>
<text x="1471.7" y="660.5" font-size="11.3" fill="#ffffff" stroke="#ffffff" stroke-width="0.45" textLength="43.5" lengthAdjust="spacingAndGlyphs">65.226M</text>
<circle cx="1438" cy="634.95" r="9.6" fill="#131722" stroke="#ab47bc" stroke-width="1.6"/>
<path d="M1441.1 629.6 L1433.8 635.8 L1437.6 635.8 L1434.8 640.4 L1442.2 634.1 L1438.4 634.1 Z" fill="#ab47bc"/>
<circle cx="1449.2" cy="658.7" r="9.45" fill="#131722" stroke="#f23645" stroke-width="1.8"/>
<clipPath id="f2"><circle cx="1449.2" cy="658.7" r="7.8"/></clipPath>
<g clip-path="url(#f2)">
<rect x="1440.7" y="650.2" width="17" height="17" fill="#ffffff"/>
<rect x="1440.7" y="650.20" width="17" height="4.10" fill="#ef5350"/>
<rect x="1440.7" y="657.00" width="17" height="3.50" fill="#ef5350"/>
<rect x="1440.7" y="663.00" width="17" height="4.20" fill="#ef5350"/>
<rect x="1440.7" y="650.2" width="10.2" height="10.3" fill="#1e88e5"/>
<rect x="1442.9" y="652.9" width="1.3" height="1.1" fill="#ffffff" opacity="0.8"/>
<rect x="1445.4" y="652.9" width="1.3" height="1.1" fill="#ffffff" opacity="0.8"/>
<rect x="1447.9" y="652.9" width="1.3" height="1.1" fill="#ffffff" opacity="0.8"/>
<rect x="1442.9" y="655.4" width="1.3" height="1.1" fill="#ffffff" opacity="0.8"/>
<rect x="1445.4" y="655.4" width="1.3" height="1.1" fill="#ffffff" opacity="0.8"/>
<rect x="1447.9" y="655.4" width="1.3" height="1.1" fill="#ffffff" opacity="0.8"/>
<rect x="1442.9" y="657.9" width="1.3" height="1.1" fill="#ffffff" opacity="0.8"/>
<rect x="1445.4" y="657.9" width="1.3" height="1.1" fill="#ffffff" opacity="0.8"/>
<rect x="1447.9" y="657.9" width="1.3" height="1.1" fill="#ffffff" opacity="0.8"/>
</g>
<circle cx="1437.1" cy="658.7" r="9.45" fill="#131722" stroke="#f23645" stroke-width="1.8"/>
<clipPath id="f1"><circle cx="1437.1" cy="658.7" r="7.8"/></clipPath>
<g clip-path="url(#f1)">
<rect x="1428.6" y="650.2" width="17" height="17" fill="#ffffff"/>
<rect x="1428.6" y="650.20" width="17" height="4.10" fill="#ef5350"/>
<rect x="1428.6" y="657.00" width="17" height="3.50" fill="#ef5350"/>
<rect x="1428.6" y="663.00" width="17" height="4.20" fill="#ef5350"/>
<rect x="1428.6" y="650.2" width="10.2" height="10.3" fill="#1e88e5"/>
<rect x="1430.8" y="652.9" width="1.3" height="1.1" fill="#ffffff" opacity="0.8"/>
<rect x="1433.3" y="652.9" width="1.3" height="1.1" fill="#ffffff" opacity="0.8"/>
<rect x="1435.8" y="652.9" width="1.3" height="1.1" fill="#ffffff" opacity="0.8"/>
<rect x="1430.8" y="655.4" width="1.3" height="1.1" fill="#ffffff" opacity="0.8"/>
<rect x="1433.3" y="655.4" width="1.3" height="1.1" fill="#ffffff" opacity="0.8"/>
<rect x="1435.8" y="655.4" width="1.3" height="1.1" fill="#ffffff" opacity="0.8"/>
<rect x="1430.8" y="657.9" width="1.3" height="1.1" fill="#ffffff" opacity="0.8"/>
<rect x="1433.3" y="657.9" width="1.3" height="1.1" fill="#ffffff" opacity="0.8"/>
<rect x="1435.8" y="657.9" width="1.3" height="1.1" fill="#ffffff" opacity="0.8"/>
</g>
<text x="10.1" y="18.9" font-size="11.7" fill="#d1d4dc" stroke="#d1d4dc" stroke-width="0.45" textLength="49.2" lengthAdjust="spacingAndGlyphs">Published</text>
<text x="63.6" y="18.9" font-size="11.7" fill="#d1d4dc" stroke="#d1d4dc" stroke-width="0.45" textLength="11.8" lengthAdjust="spacingAndGlyphs">on</text>
<text x="79.8" y="18.9" font-size="11.7" fill="#d1d4dc" stroke="#d1d4dc" stroke-width="0.45" textLength="90.4" lengthAdjust="spacingAndGlyphs">TradingView.com,</text>
<text x="175.5" y="18.9" font-size="11.7" fill="#d1d4dc" stroke="#d1d4dc" stroke-width="0.45" textLength="18.5" lengthAdjust="spacingAndGlyphs">Feb</text>
<text x="199.3" y="18.9" font-size="11.7" fill="#d1d4dc" stroke="#d1d4dc" stroke-width="0.45" textLength="13.9" lengthAdjust="spacingAndGlyphs">15,</text>
<text x="218.0" y="18.9" font-size="11.7" fill="#d1d4dc" stroke="#d1d4dc" stroke-width="0.45" textLength="24.4" lengthAdjust="spacingAndGlyphs">2024</text>
<text x="246.6" y="18.9" font-size="11.7" fill="#d1d4dc" stroke="#d1d4dc" stroke-width="0.45" textLength="27.2" lengthAdjust="spacingAndGlyphs">10:59</text>
<text x="278.2" y="18.9" font-size="11.7" fill="#d1d4dc" stroke="#d1d4dc" stroke-width="0.45" textLength="20.8" lengthAdjust="spacingAndGlyphs">UTC</text>
<text x="17.8" y="45.2" font-size="11.3" fill="#b8bbc3" stroke="#b8bbc3" stroke-width="0.32" textLength="42.3" lengthAdjust="spacingAndGlyphs">Cardano</text>
<text x="64.8" y="45.2" font-size="11.3" fill="#b8bbc3" stroke="#b8bbc3" stroke-width="0.32" textLength="4.0" lengthAdjust="spacingAndGlyphs">/</text>
<text x="74.2" y="45.2" font-size="11.3" fill="#b8bbc3" stroke="#b8bbc3" stroke-width="0.32" textLength="49.1" lengthAdjust="spacingAndGlyphs">TetherUS,</text>
<text x="128.8" y="45.2" font-size="11.3" fill="#b8bbc3" stroke="#b8bbc3" stroke-width="0.32" textLength="15.4" lengthAdjust="spacingAndGlyphs">1D,</text>
<text x="149.5" y="45.2" font-size="11.3" fill="#b8bbc3" stroke="#b8bbc3" stroke-width="0.32" textLength="44.0" lengthAdjust="spacingAndGlyphs">BINANCE</text>
<text x="201.0" y="45.2" font-size="11.3" fill="#b8bbc3" stroke="#b8bbc3" stroke-width="0.32" textLength="7.0" lengthAdjust="spacingAndGlyphs">O</text>
<text x="208.0" y="45.2" font-size="11.3" fill="#089981" stroke="#089981" stroke-width="0.30" textLength="35.0" lengthAdjust="spacingAndGlyphs">0.5769</text>
<text x="250.8" y="45.2" font-size="11.3" fill="#b8bbc3" stroke="#b8bbc3" stroke-width="0.32" textLength="7.2" lengthAdjust="spacingAndGlyphs">H</text>
<text x="258.0" y="45.2" font-size="11.3" fill="#089981" stroke="#089981" stroke-width="0.30" textLength="34.8" lengthAdjust="spacingAndGlyphs">0.5885</text>
<text x="300.6" y="45.2" font-size="11.3" fill="#b8bbc3" stroke="#b8bbc3" stroke-width="0.32" textLength="5.1" lengthAdjust="spacingAndGlyphs">L</text>
<text x="305.7" y="45.2" font-size="11.3" fill="#089981" stroke="#089981" stroke-width="0.30" textLength="34.8" lengthAdjust="spacingAndGlyphs">0.5706</text>
<text x="348.3" y="45.2" font-size="11.3" fill="#b8bbc3" stroke="#b8bbc3" stroke-width="0.32" textLength="6.1" lengthAdjust="spacingAndGlyphs">C</text>
<text x="354.4" y="45.2" font-size="11.3" fill="#089981" stroke="#089981" stroke-width="0.30" textLength="34.9" lengthAdjust="spacingAndGlyphs">0.5883</text>
<text x="396.7" y="45.2" font-size="11.3" fill="#089981" stroke="#089981" stroke-width="0.30" textLength="41.0" lengthAdjust="spacingAndGlyphs">+0.0115</text>
<text x="441.8" y="45.2" font-size="11.3" fill="#089981" stroke="#089981" stroke-width="0.30" textLength="43.3" lengthAdjust="spacingAndGlyphs">(+1.99%)</text>
<text x="17.7" y="61.8" font-size="11.3" fill="#b8bbc3" stroke="#b8bbc3" stroke-width="0.32" textLength="15.1" lengthAdjust="spacingAndGlyphs">Vol</text>
<text x="37.7" y="61.8" font-size="11.3" fill="#b8bbc3" stroke="#b8bbc3" stroke-width="0.32" textLength="2.4" lengthAdjust="spacingAndGlyphs">·</text>
<text x="44.8" y="61.8" font-size="11.3" fill="#b8bbc3" stroke="#b8bbc3" stroke-width="0.32" textLength="20.6" lengthAdjust="spacingAndGlyphs">ADA</text>
<text x="72.6" y="61.8" font-size="11.3" fill="#26a69a" stroke="#26a69a" stroke-width="0.30" textLength="43.0" lengthAdjust="spacingAndGlyphs">65.226M</text>
<g fill="#d1d4dc"><path d="M9.8 710.4 H17.4 V720 H13.4 V713.9 H9.8 Z"/><circle cx="20.6" cy="712.5" r="2.1"/><path d="M24.6 710.4 H29.2 L25.0 720.2 H20.4 Z"/></g>
<text x="32.2" y="720.9" font-size="13.6" fill="#d1d4dc" stroke="#d1d4dc" stroke-width="0.35" textLength="68.4" lengthAdjust="spacingAndGlyphs">TradingView</text>
</g>
</svg></body></html>
